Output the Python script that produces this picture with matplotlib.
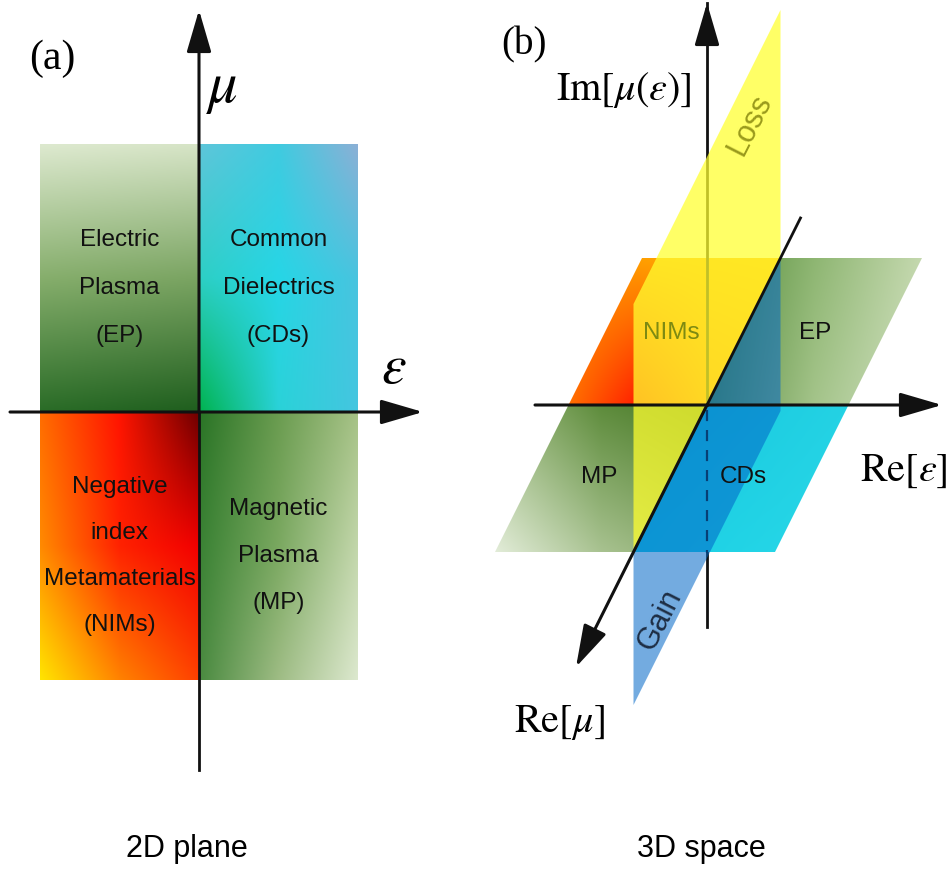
import numpy as np
import matplotlib.pyplot as plt
from matplotlib.patches import Polygon, FancyArrowPatch
from matplotlib.colors import to_rgb

plt.rcParams['mathtext.fontset'] = 'stix'
SANS = ['Liberation Sans', 'DejaVu Sans']
SERIF = ['Liberation Serif', 'DejaVu Serif']

# ---- panel (a): the (eps, mu) plane, four quadrants ----
a_names = ['Electric\nPlasma\n(EP)', 'Common\nDielectrics\n(CDs)',
           'Negative\nindex\nMetamaterials\n(NIMs)', 'Magnetic\nPlasma\n(MP)']
a_signs = [(-1, 1), (1, 1), (-1, -1), (1, -1)]      # (sign of eps, sign of mu)
a_spacing = [2.55, 2.55, 2.4, 2.45]
a_shades = [
    [['#dde9cf', '#d6e4c6'], ['#86ae6c', '#7aa462'], ['#2a6c27', '#1f5e1e']],
    [['#5ec6da', '#3fcbe0', '#8bb0d6'], ['#2dcfc4', '#26d6e6', '#48c4df'],
     ['#00b34f', '#2ad2d8', '#44c6e0']],
    [['#ff6c00', '#ff1400', '#6e0000'], ['#ff8a00', '#ff2200', '#f20000'],
     ['#ffe400', '#ff8200', '#ff4000']],
    [['#2a7426', '#6a9c50', '#a6c286'], ['#3a8234', '#7aa860', '#c2d6aa'],
     ['#4a8a40', '#9ebc84', '#dce8ce']],
]
a_eps_half, a_mu_half = 159, 268

# ---- panel (b): Re[eps] x Re[mu] plane plus the Im axis ----
b_names = ['NIMs', 'EP', 'MP', 'CDs']
b_signs = [(-1, -1), (1, -1), (-1, 1), (1, 1)]      # (sign of eps, sign of m), m grows toward viewer
b_text = ['#7d8a12', '#111111', '#111111', '#111111']
b_shades = [
    [['#ff9a00', '#ffa000', '#ffa400', '#ffa800'],
     ['#ff7000', '#ff1c00', '#ff6a00', '#ff8000']],
    [['#4e8834', '#8eb672', '#c4d8ae'], ['#5c8e40', '#a4c48a', '#d2e2c2']],
    [['#9cba7e', '#5e8c3c', '#467628'], ['#e2ecd8', '#a8c290', '#86a868']],
    [['#16c6de', '#1ccce0', '#24d2e4'], ['#1ccee4', '#22d4e6', '#2ad8e8']],
]
b_eps = (-138.5, 141.5)
b_m = (-147, 147)
loss_im, gain_im = 248, -153


def color_grid(rows, n=120):
    g = np.array([[to_rgb(c) for c in r] for r in rows])
    nr, nc = g.shape[:2]
    xi = np.linspace(0, nc - 1, n)
    yi = np.linspace(0, nr - 1, n)
    tmp = np.stack([np.stack([np.interp(xi, np.arange(nc), g[j, :, k]) for k in range(3)], -1)
                    for j in range(nr)])
    return np.stack([np.stack([np.interp(yi, np.arange(nr), tmp[:, i, k]) for k in range(3)], -1)
                     for i in range(n)], 1)


def fill_gradient(ax, verts, rows, z=1):
    verts = np.asarray(verts, float)
    patch = Polygon(verts, closed=True, fc='none', ec='none')
    ax.add_patch(patch)
    (x0, y0), (x1, y1) = verts.min(0), verts.max(0)
    im = ax.imshow(color_grid(rows), extent=(x0, x1, y1, y0), origin='upper',
                   interpolation='bilinear', aspect='auto', zorder=z)
    im.set_clip_path(patch)


def arrow(ax, p0, p1, z=6):
    ax.add_patch(FancyArrowPatch(p0, p1, arrowstyle='-|>,head_length=1.3,head_width=0.38',
                                 mutation_scale=20, lw=2.2, color='#111111',
                                 shrinkA=0, shrinkB=0, zorder=z))


fig = plt.figure(figsize=(9.49, 8.77), dpi=100)
ax = fig.add_axes([0, 0, 1, 1])

# panel (a)
ox, oy = 199, 412
for name, (se, sm), ls, shade in zip(a_names, a_signs, a_spacing, a_shades):
    xs = sorted([ox, ox + se * a_eps_half])
    ys = sorted([oy, oy - sm * a_mu_half])
    box = [(xs[0], ys[0]), (xs[1], ys[0]), (xs[1], ys[1]), (xs[0], ys[1])]
    fill_gradient(ax, box, shade)
    ax.text(sum(xs) / 2, sum(ys) / 2 + 10, name, ha='center', va='center',
            fontsize=17.5, family=SANS, color='#111111', linespacing=ls, zorder=5)

arrow(ax, (ox - 189, oy), (ox + 224, oy))
ax.plot([ox, ox], [oy + 358, oy], color='#111111', lw=2, zorder=5)
arrow(ax, (ox, oy), (ox, oy - 402))
ax.text(222, 88, r'$\mu$', fontsize=42, ha='center', va='center', zorder=6)
ax.text(394, 368, r'$\varepsilon$', fontsize=40, ha='center', va='center', zorder=6)
ax.text(52, 59, '(a)', fontsize=30, family=SERIF, ha='center', va='center')
ax.text(187, 857, '2D plane', fontsize=22, family=SANS, ha='center', va='baseline')

# panel (b): oblique projection of (eps, m, im)
bx, by = 707, 405


def proj(e, m, i=0):
    return (bx + e - 0.5 * m, by + m - i)


for name, (se, sm), tc, shade in zip(b_names, b_signs, b_text, b_shades):
    e1 = b_eps[0] if se < 0 else b_eps[1]
    m1 = b_m[0] if sm < 0 else b_m[1]
    quad = [proj(0, 0), proj(e1, 0), proj(e1, m1), proj(0, m1)]
    fill_gradient(ax, quad, shade)
    ax.text(*proj(se * 72, sm * 72), name, ha='center', va='center', fontsize=17.5,
            family=SANS, color=tc, zorder=5)

# Im axis sits behind the planes: solid above, dashed behind the CDs quadrant
ax.plot(*zip(proj(0, 0, 0), proj(0, 0, 402)), color='#111111', lw=2, zorder=1.5)
ax.plot(*zip(proj(0, 0, -5), proj(0, 0, -148)), color='#111111', lw=1.6,
        ls=(0, (5, 4)), zorder=2)
ax.plot(*zip(proj(0, 0, -148), proj(0, 0, -222)), color='#111111', lw=2, zorder=2)
arrow(ax, proj(0, 0, 380), proj(0, 0, 402))

gain = [proj(0, b_m[0], 0), proj(0, b_m[1], 0), proj(0, b_m[1], gain_im), proj(0, b_m[0], gain_im)]
ax.add_patch(Polygon(gain, closed=True, fc='#0066c8', ec='none', alpha=0.55, zorder=3))
loss = [proj(0, b_m[0], 0), proj(0, b_m[1], 0), proj(0, b_m[1], loss_im), proj(0, b_m[0], loss_im)]
ax.add_patch(Polygon(loss, closed=True, fc='#ffff30', ec='none', alpha=0.74, zorder=4))

ax.text(*proj(0, -86, 194), 'Loss', rotation=63, ha='center', va='center', fontsize=22,
        family=SANS, color='#9a9a1c', zorder=5)
ax.text(*proj(0, 94, -121), 'Gain', rotation=63, ha='center', va='center', fontsize=22,
        family=SANS, color='#1e2e44', zorder=5)

arrow(ax, proj(-172, 0), proj(235, 0))
ax.plot(*zip(proj(0, -187), proj(0, 0)), color='#111111', lw=2, zorder=6)
arrow(ax, proj(0, 0), proj(0, 262))

ax.text(692, 100, r'$\mathrm{Im}[\mu(\varepsilon)]$', fontsize=29, ha='right', va='baseline')
ax.text(904, 470, r'$\mathrm{Re}[\varepsilon]$', fontsize=29, ha='center', va='center')
ax.text(560, 722, r'$\mathrm{Re}[\mu]$', fontsize=29, ha='center', va='center')
ax.text(524, 45, '(b)', fontsize=28, family=SERIF, ha='center', va='center')
ax.text(701, 857, '3D space', fontsize=22, family=SANS, ha='center', va='baseline')

ax.set_xlim(0, 949)
ax.set_ylim(877, 0)
ax.axis('off')
fig.savefig('out.png', dpi=100)
